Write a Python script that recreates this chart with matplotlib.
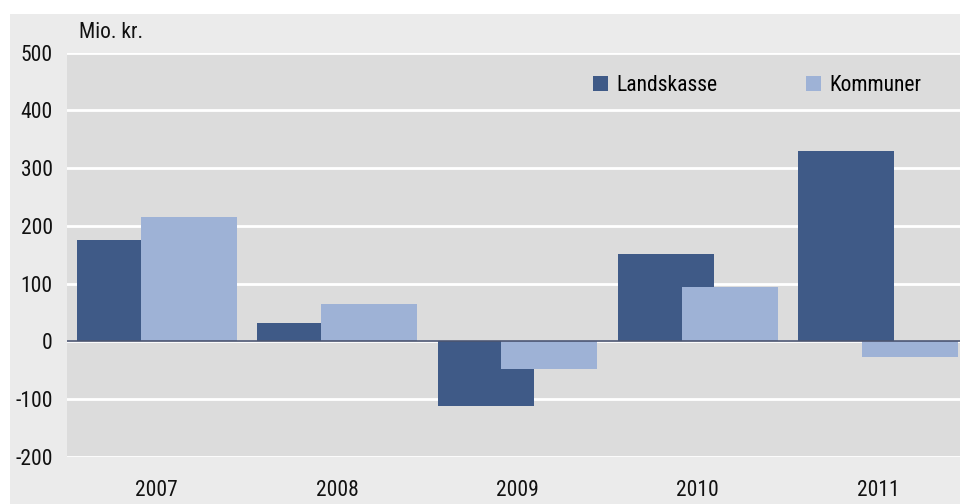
import numpy as np
import matplotlib.pyplot as plt
from matplotlib.patches import Rectangle

years = ['2007', '2008', '2009', '2010', '2011']
landskasse = [175, 31, -112, 151, 329]
kommuner = [215, 64, -48, 94, -28]

plt.rcParams['font.family'] = ['Roboto Condensed', 'Open Sans Condensed', 'Liberation Sans Narrow',
                               'Liberation Sans', 'DejaVu Sans']
plt.rcParams['axes.unicode_minus'] = False

fig = plt.figure(figsize=(9.6, 5.04), dpi=100)
fig.patches.append(Rectangle((10 / 960, 0), 1, 1 - 14 / 504, transform=fig.transFigure,
                             facecolor='#ebebeb', edgecolor='none', zorder=-10))

ax = fig.add_axes([66.7 / 960, 47.3 / 504, 1 - 66.7 / 960, 404 / 504])
ax.set_facecolor('#dcdcdc')

x = np.arange(len(years))
w = 0.532
ax.bar(x - 0.177, landskasse, w, color='#3f5a87', label='Landskasse', zorder=2)
ax.bar(x + 0.177, kommuner, w, color='#9eb2d6', label='Kommuner', zorder=3)
ax.axhline(0, color='#4a5470', linewidth=1.2, zorder=4)

ax.set_ylim(-200, 500)
ax.set_xlim(-0.5, 4.454)
ax.set_yticks(range(-200, 501, 100))
ax.yaxis.grid(True, color='white', linewidth=2, zorder=1)
ax.set_axisbelow(True)
ax.set_xticks(x)
ax.set_xticklabels(years)
ax.tick_params(length=0, labelsize=15.5, colors='#111111')
ax.tick_params(axis='y', pad=10)
ax.tick_params(axis='x', pad=17)
for s in ax.spines.values():
    s.set_visible(False)

fig.text(79 / 960, 1 - 33 / 504, 'Mio. kr.', fontsize=15.5, va='center', color='#111111')

ax.legend(loc='upper left', bbox_to_anchor=(0.579, 0.965), ncol=2, frameon=False,
          fontsize=15.5, handlelength=0.7, handleheight=0.7, handletextpad=0.4,
          columnspacing=4.1, borderaxespad=0)

fig.savefig('out.png', dpi=100)
